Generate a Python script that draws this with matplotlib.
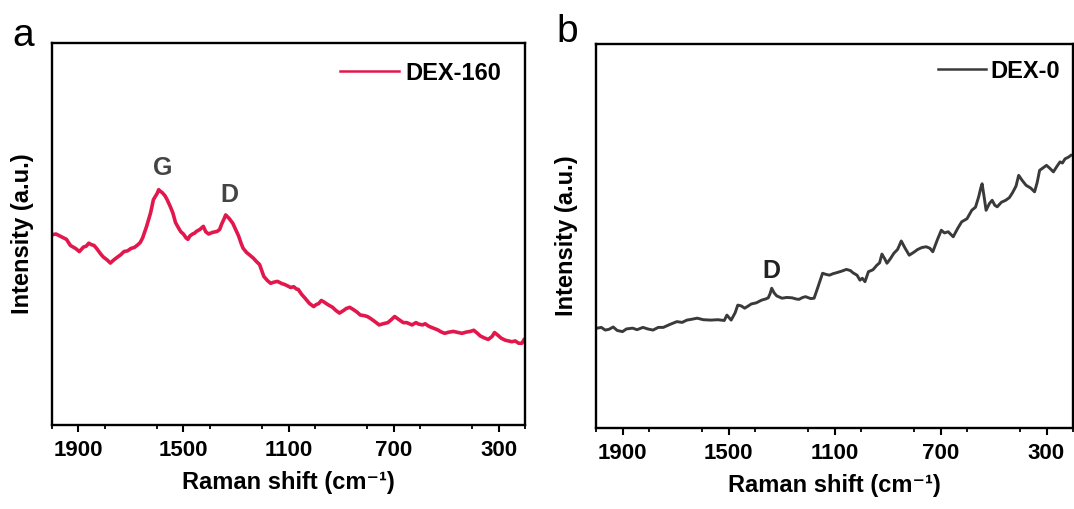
import matplotlib
matplotlib.use("Agg")
import matplotlib.pyplot as plt
from matplotlib.ticker import MultipleLocator

plt.rcParams['font.family'] = ['Liberation Sans', 'DejaVu Sans']

# ---- data (intensity as fraction of axis height) ----
shift_a = [2000, 1985, 1962, 1945, 1930, 1910, 1896, 1880, 1870, 1860, 1850, 1840, 1830, 1815,
           1805, 1790, 1778, 1765, 1750, 1738, 1726, 1712, 1700, 1686, 1673, 1664,
           1655, 1640, 1625, 1614, 1600, 1594, 1588, 1580, 1570, 1562, 1550, 1540, 1530, 1522,
           1510, 1500, 1490, 1483, 1475, 1465, 1458, 1450, 1437,
           1424, 1415, 1404, 1390, 1371, 1362, 1355, 1345, 1339, 1332, 1325, 1312, 1300, 1290,
           1280, 1273, 1260, 1248, 1234, 1222, 1210, 1194, 1180, 1168, 1155,
           1142, 1125, 1115, 1103, 1092, 1080, 1070, 1063, 1050, 1037, 1020, 1004, 995, 985, 975,
           965, 950, 932, 920, 906, 890, 880, 867, 855, 840, 827, 810, 800, 788, 770, 755,
           740, 722, 710, 696, 680, 663, 650, 630, 615, 604, 590, 580, 565, 550, 532, 520, 506,
           490, 473, 460, 440, 425, 408, 395, 381, 370, 355, 340, 325, 316, 305, 290,
           275, 262, 250, 237, 224, 212, 204]
int_a = [0.498, 0.500, 0.492, 0.486, 0.470, 0.462, 0.454, 0.466, 0.468, 0.476, 0.472, 0.470,
         0.462, 0.448, 0.440, 0.432, 0.424, 0.432, 0.440, 0.446, 0.454, 0.456, 0.462, 0.465,
         0.472, 0.478, 0.490, 0.520, 0.555, 0.590, 0.606, 0.616, 0.612, 0.608, 0.600, 0.590,
         0.572, 0.555, 0.530, 0.520, 0.506, 0.500, 0.490, 0.486, 0.495, 0.500, 0.502, 0.507,
         0.512, 0.520, 0.506, 0.500, 0.504, 0.507, 0.512, 0.525, 0.540, 0.550, 0.545, 0.540,
         0.528, 0.510, 0.495, 0.475, 0.463, 0.452, 0.445, 0.437, 0.428, 0.420, 0.389, 0.378,
         0.371, 0.374, 0.376, 0.370, 0.368, 0.364, 0.360, 0.362, 0.356, 0.355, 0.342, 0.332,
         0.318, 0.310, 0.315, 0.318, 0.326, 0.322, 0.315, 0.308, 0.300, 0.293, 0.300, 0.305,
         0.308, 0.303, 0.296, 0.288, 0.286, 0.284, 0.279, 0.270, 0.262, 0.265, 0.268, 0.275,
         0.284, 0.276, 0.268, 0.268, 0.262, 0.268, 0.264, 0.262, 0.265, 0.258, 0.254, 0.249,
         0.244, 0.240, 0.243, 0.245, 0.243, 0.240, 0.243, 0.245, 0.248, 0.240, 0.233, 0.228,
         0.224, 0.232, 0.242, 0.236, 0.227, 0.222, 0.220, 0.218, 0.220, 0.214, 0.214, 0.223]

shift_b = [1996, 1980, 1965, 1951, 1935, 1920, 1900, 1885, 1862, 1845, 1823, 1805, 1785, 1765,
           1746, 1720, 1695, 1675, 1657, 1640, 1618, 1595, 1567, 1540, 1516, 1506,
           1490, 1475, 1465, 1452, 1439, 1425, 1414, 1395, 1375, 1360, 1350, 1343, 1337, 1328,
           1318, 1298, 1280, 1260, 1245, 1234, 1220, 1209, 1190, 1177,
           1164, 1145, 1132, 1119, 1105, 1094, 1075, 1055, 1040, 1030, 1015, 1004, 995, 985, 972,
           955, 940, 930, 921, 910, 902, 890, 876, 862, 848, 835,
           818, 800, 786, 770, 754, 740, 729, 712, 697, 685, 671, 652, 635, 620, 600, 582, 568,
           556, 548, 543, 535, 528, 515, 505, 495, 486, 470, 454, 440, 428,
           415, 405, 392, 377, 360, 345, 335, 326, 312, 300, 287, 274, 262, 249, 240, 230, 218, 208]
int_b = [0.260, 0.262, 0.255, 0.257, 0.263, 0.254, 0.251, 0.258, 0.260, 0.256, 0.262, 0.258,
         0.255, 0.262, 0.262, 0.270, 0.277, 0.275, 0.281, 0.283, 0.286, 0.282, 0.281, 0.282,
         0.280, 0.294, 0.281, 0.300, 0.320, 0.318, 0.312, 0.318, 0.323, 0.326, 0.333, 0.336,
         0.339, 0.350, 0.364, 0.352, 0.344, 0.338, 0.340, 0.339, 0.336, 0.335, 0.340, 0.342,
         0.337, 0.338, 0.364, 0.403, 0.400, 0.398, 0.402, 0.404, 0.408, 0.413, 0.410, 0.404,
         0.398, 0.385, 0.390, 0.381, 0.407, 0.412, 0.424, 0.430, 0.453, 0.440, 0.429, 0.440,
         0.455, 0.465, 0.487, 0.470, 0.450, 0.458, 0.465, 0.470, 0.472, 0.468, 0.459, 0.490,
         0.515, 0.508, 0.511, 0.498, 0.520, 0.537, 0.545, 0.567, 0.575, 0.602, 0.625, 0.636,
         0.600, 0.567, 0.585, 0.593, 0.580, 0.576, 0.588, 0.593, 0.600, 0.613, 0.630, 0.658,
         0.645, 0.632, 0.625, 0.615, 0.640, 0.671, 0.678, 0.684, 0.676, 0.667, 0.680, 0.693,
         0.690, 0.701, 0.705, 0.710]

xticks_major = [1900, 1500, 1100, 700, 300]
label_a = "DEX-160"
label_b = "DEX-0"

W, H = 1074, 509
fig = plt.figure(figsize=(W / 100, H / 100), dpi=100)

ax_a = fig.add_axes([52 / W, 84 / H, 473 / W, 382 / H])
ax_b = fig.add_axes([596 / W, 81 / H, 477 / W, 384 / H])

ax_a.plot(shift_a, int_a, color='#E2184C', lw=2.6, label=label_a)
ax_b.plot(shift_b, int_b, color='#3a3a3a', lw=2.1, label=label_b)

for ax in (ax_a, ax_b):
    ax.set_xlim(2000, 200)
    ax.set_ylim(0, 1)
    ax.set_xticks(xticks_major)
    ax.xaxis.set_minor_locator(MultipleLocator(200))
    ax.set_yticks([])
    ax.tick_params(axis='x', which='major', direction='out', length=5, width=1.5,
                   labelsize=16, pad=6)
    ax.tick_params(axis='x', which='minor', direction='out', length=3, width=1.3)
    for lab in ax.get_xticklabels():
        lab.set_fontweight('bold')
    for sp in ax.spines.values():
        sp.set_linewidth(1.7)
    ax.set_xlabel('Raman shift (cm\u207b\u00b9)', fontsize=17, fontweight='bold', labelpad=7)
    ax.set_ylabel('Intensity (a.u.)', fontsize=17, fontweight='bold', labelpad=13)

leg_a = ax_a.legend(loc='center right', bbox_to_anchor=(501 / W, (H - 73) / H),
                    bbox_transform=fig.transFigure, frameon=False, borderpad=0, borderaxespad=0,
                    handlelength=2.5, handletextpad=0.25, prop={'weight': 'bold', 'size': 17})
leg_b = ax_b.legend(loc='center right', bbox_to_anchor=(1060 / W, (H - 71) / H),
                    bbox_transform=fig.transFigure, frameon=False, borderpad=0, borderaxespad=0,
                    handlelength=2.0, handletextpad=0.2, prop={'weight': 'bold', 'size': 17})
for leg in (leg_a, leg_b):
    for ln in leg.get_lines():
        ln.set_linewidth(1.8)

ax_a.text(1580, 0.673, 'G', ha='center', va='center', fontsize=18, fontweight='bold', color='#444444')
ax_a.text(1324, 0.602, 'D', ha='center', va='center', fontsize=18, fontweight='bold', color='#444444')
ax_b.text(1337, 0.408, 'D', ha='center', va='center', fontsize=18, fontweight='bold', color='#222222')

fig.text(12 / W, (H - 46) / H, 'a', fontsize=28, ha='left', va='baseline')
fig.text(556 / W, (H - 42) / H, 'b', fontsize=28, ha='left', va='baseline')

fig.savefig('out.png', dpi=100)
